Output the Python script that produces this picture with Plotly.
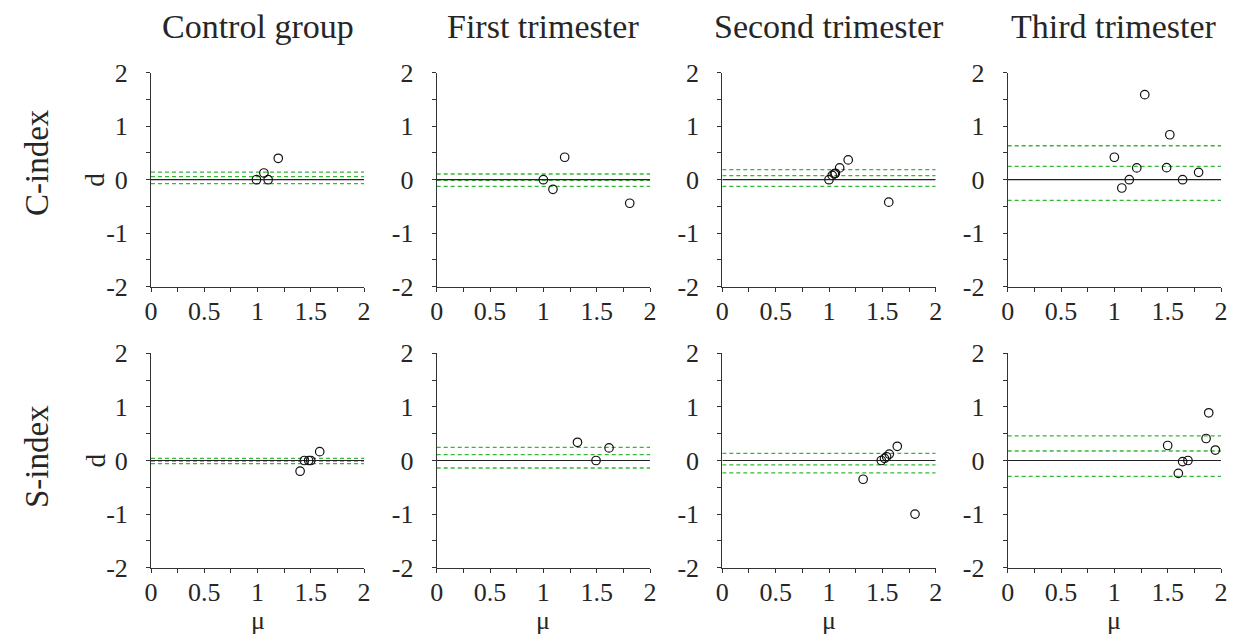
import plotly.graph_objects as go

# ---------------- data ----------------
col_titles = ["Control group", "First trimester", "Second trimester", "Third trimester"]
row_titles = ["C-index", "S-index"]

# C-index row
c_ctrl_mu = [0.99, 1.06, 1.10, 1.195]
c_ctrl_d = [0.0, 0.125, 0.0, 0.40]
c_t1_mu = [1.00, 1.09, 1.20, 1.81]
c_t1_d = [0.0, -0.18, 0.42, -0.44]
c_t2_mu = [1.00, 1.03, 1.05, 1.06, 1.10, 1.18, 1.56]
c_t2_d = [0.0, 0.08, 0.11, 0.12, 0.22, 0.37, -0.42]
c_t3_mu = [1.00, 1.07, 1.14, 1.21, 1.285, 1.49, 1.52, 1.64, 1.79]
c_t3_d = [0.42, -0.155, 0.0, 0.22, 1.59, 0.225, 0.84, 0.0, 0.138]

# S-index row
s_ctrl_mu = [1.40, 1.44, 1.48, 1.50, 1.584]
s_ctrl_d = [-0.20, 0.0, 0.0, 0.0, 0.165]
s_t1_mu = [1.32, 1.494, 1.616]
s_t1_d = [0.34, 0.0, 0.235]
s_t2_mu = [1.32, 1.49, 1.52, 1.54, 1.565, 1.64, 1.806]
s_t2_d = [-0.35, 0.0, 0.04, 0.07, 0.12, 0.265, -1.0]
s_t3_mu = [1.50, 1.60, 1.64, 1.69, 1.86, 1.885, 1.947]
s_t3_d = [0.28, -0.24, -0.02, 0.0, 0.41, 0.89, 0.195]

# limits of agreement (upper, mean, lower) per panel
c_limits = [[0.14, 0.056, -0.075], [0.107, -0.01, -0.124], [0.19, 0.075, -0.124], [0.635, 0.25, -0.385]]
s_limits = [[0.04, -0.01, -0.06], [0.246, 0.108, -0.14], [0.134, -0.08, -0.23], [0.46, 0.177, -0.295]]

x_ticks = [0, 0.25, 0.5, 0.75, 1, 1.25, 1.5, 1.75, 2]
x_tick_text = ["0", "", "0.5", "", "1", "", "1.5", "", "2"]
y_ticks = [-2, -1.5, -1, -0.5, 0, 0.5, 1, 1.5, 2]
y_tick_text = ["-2", "", "-1", "", "0", "", "1", "", "2"]

panels = [
    [(c_ctrl_mu, c_ctrl_d), (c_t1_mu, c_t1_d), (c_t2_mu, c_t2_d), (c_t3_mu, c_t3_d)],
    [(s_ctrl_mu, s_ctrl_d), (s_t1_mu, s_t1_d), (s_t2_mu, s_t2_d), (s_t3_mu, s_t3_d)],
]
limits = [c_limits, s_limits]

# ---------------- layout geometry ----------------
OFF = 8  # default page body margin
W, H = 1237 - OFF, 637 - OFF
x_px = [(151, 364), (436.7, 650), (722.3, 935.7), (1007.7, 1221)]
y_px = [(72.7, 286.7), (353.3, 567.7)]
row_label_y = [163, 457]


def px(X):
    return (X - OFF) / W


def py(Y):
    return 1 - (Y - OFF) / H


FONT = "Liberation Serif"
TXT = "#262626"
GREEN = "#33b833"

fig = go.Figure()
layout = dict(
    width=W, height=H, margin=dict(l=0, r=0, t=0, b=0, autoexpand=False),
    paper_bgcolor="white", plot_bgcolor="white", showlegend=False,
    font=dict(family=FONT, color=TXT, size=26),
)
annotations = []

k = 0
for r in range(2):
    for c in range(4):
        k += 1
        xa = "x" if k == 1 else f"x{k}"
        ya = "y" if k == 1 else f"y{k}"
        xkey = "xaxis" if k == 1 else f"xaxis{k}"
        ykey = "yaxis" if k == 1 else f"yaxis{k}"
        x0, x1 = x_px[c]
        yt, yb = y_px[r]
        layout[xkey] = dict(
            domain=[px(x0), px(x1)], range=[0, 2], anchor=ya, automargin=False,
            tickvals=x_ticks, ticktext=x_tick_text, ticks="outside", ticklen=4,
            tickcolor="#333", tickwidth=1, showline=True, linecolor="#333", linewidth=1,
            showgrid=False, zeroline=False, tickfont=dict(size=26, family=FONT, color=TXT),
            ticklabelstandoff=-3,
        )
        layout[ykey] = dict(
            domain=[py(yb), py(yt)], range=[-2, 2], anchor=xa, automargin=False,
            tickvals=y_ticks, ticktext=y_tick_text, ticks="outside", ticklen=4,
            tickcolor="#333", tickwidth=1, showline=True, linecolor="#333", linewidth=1,
            showgrid=False, zeroline=False, tickfont=dict(size=26, family=FONT, color=TXT),
            ticklabelstandoff=13,
        )
        # green dashed limit lines
        for lv in limits[r][c]:
            fig.add_trace(go.Scatter(x=[0, 2], y=[lv, lv], mode="lines", xaxis=xa, yaxis=ya,
                                     line=dict(color=GREEN, width=1.3, dash="4px,3px"), hoverinfo="skip"))
        # zero line
        fig.add_trace(go.Scatter(x=[0, 2], y=[0, 0], mode="lines", xaxis=xa, yaxis=ya,
                                 line=dict(color="#222", width=1.2), hoverinfo="skip"))
        mu, d = panels[r][c]
        fig.add_trace(go.Scatter(x=mu, y=d, mode="markers", xaxis=xa, yaxis=ya,
                                 marker=dict(symbol="circle-open", size=8.5, color="#111",
                                             line=dict(width=1.2, color="#111"))))
        if r == 0:
            annotations.append(dict(text=col_titles[c], x=px((x0 + x1) / 2), y=py(27),
                                    xref="paper", yref="paper", showarrow=False,
                                    xanchor="center", yanchor="middle",
                                    font=dict(size=34, family=FONT, color=TXT)))
        if r == 1:
            annotations.append(dict(text="μ", x=px((x0 + x1) / 2), y=py(637),
                                    xref="paper", yref="paper", showarrow=False,
                                    xanchor="center", yanchor="bottom",
                                    font=dict(size=26, family=FONT, color=TXT)))
    yt, yb = y_px[r]
    yc = (yt + yb) / 2
    annotations.append(dict(text="d", x=px(95), y=py(yc), xref="paper", yref="paper",
                            showarrow=False, textangle=-90, xanchor="center", yanchor="middle",
                            font=dict(size=27, family=FONT, color=TXT)))
    annotations.append(dict(text=row_titles[r], x=px(37), y=py(row_label_y[r]), xref="paper", yref="paper",
                            showarrow=False, textangle=-90, xanchor="center", yanchor="middle",
                            font=dict(size=33, family=FONT, color=TXT)))

layout["annotations"] = annotations
fig.update_layout(**layout)
fig.write_html("out.html")
